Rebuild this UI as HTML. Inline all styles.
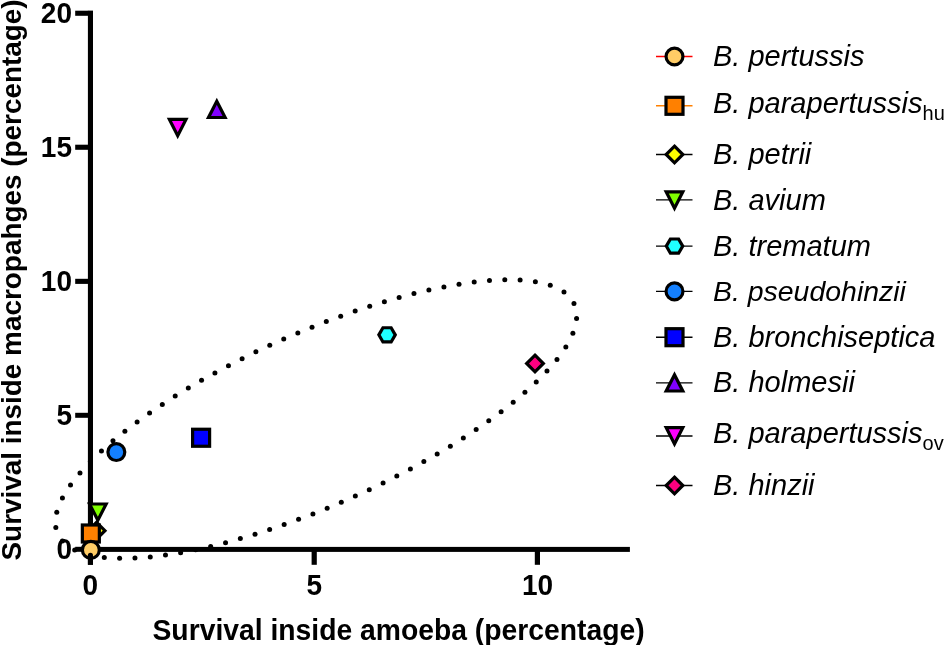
<!DOCTYPE html>
<html><head><meta charset="utf-8"><style>
html,body{margin:0;padding:0;background:#fff;}
body{width:945px;height:645px;overflow:hidden;}
svg{display:block;will-change:transform;}
text{font-family:"Liberation Sans",sans-serif;}
.tk{font-weight:bold;font-size:28px;}
.ti{font-weight:bold;font-size:28.3px;}
.ty{font-weight:bold;font-size:27.9px;}
.lg{font-style:italic;font-size:29px;}
.sub{font-style:normal;font-size:20px;}
</style></head><body>
<svg width="945" height="645" viewBox="0 0 945 645">
<rect width="945" height="645" fill="#fff"/>
<g fill="#000"><circle cx="55.82" cy="527.38" r="2.5"/><circle cx="56.77" cy="512.18" r="2.5"/><circle cx="62.42" cy="497.95" r="2.5"/><circle cx="70.50" cy="484.92" r="2.5"/><circle cx="79.99" cy="472.88" r="2.5"/><circle cx="90.39" cy="461.60" r="2.5"/><circle cx="101.44" cy="450.96" r="2.5"/><circle cx="112.97" cy="440.84" r="2.5"/><circle cx="124.88" cy="431.17" r="2.5"/><circle cx="137.10" cy="421.90" r="2.5"/><circle cx="149.59" cy="412.99" r="2.5"/><circle cx="162.30" cy="404.40" r="2.5"/><circle cx="175.21" cy="396.12" r="2.5"/><circle cx="188.30" cy="388.11" r="2.5"/><circle cx="201.54" cy="380.37" r="2.5"/><circle cx="214.93" cy="372.88" r="2.5"/><circle cx="228.46" cy="365.64" r="2.5"/><circle cx="242.11" cy="358.64" r="2.5"/><circle cx="255.88" cy="351.87" r="2.5"/><circle cx="269.76" cy="345.34" r="2.5"/><circle cx="283.74" cy="339.04" r="2.5"/><circle cx="297.83" cy="332.97" r="2.5"/><circle cx="312.02" cy="327.13" r="2.5"/><circle cx="326.31" cy="321.54" r="2.5"/><circle cx="340.69" cy="316.19" r="2.5"/><circle cx="355.16" cy="311.10" r="2.5"/><circle cx="369.72" cy="306.29" r="2.5"/><circle cx="384.38" cy="301.75" r="2.5"/><circle cx="399.13" cy="297.52" r="2.5"/><circle cx="413.96" cy="293.62" r="2.5"/><circle cx="428.89" cy="290.08" r="2.5"/><circle cx="443.91" cy="286.95" r="2.5"/><circle cx="459.01" cy="284.27" r="2.5"/><circle cx="474.20" cy="282.12" r="2.5"/><circle cx="489.47" cy="280.60" r="2.5"/><circle cx="504.79" cy="279.86" r="2.5"/><circle cx="520.12" cy="280.11" r="2.5"/><circle cx="535.37" cy="281.73" r="2.5"/><circle cx="550.26" cy="285.34" r="2.5"/><circle cx="563.97" cy="292.11" r="2.5"/><circle cx="573.96" cy="303.54" r="2.5"/><circle cx="576.57" cy="318.48" r="2.5"/><circle cx="572.88" cy="333.31" r="2.5"/><circle cx="565.83" cy="346.91" r="2.5"/><circle cx="556.96" cy="359.42" r="2.5"/><circle cx="546.97" cy="371.06" r="2.5"/><circle cx="536.23" cy="382.00" r="2.5"/><circle cx="524.92" cy="392.37" r="2.5"/><circle cx="513.19" cy="402.25" r="2.5"/><circle cx="501.12" cy="411.72" r="2.5"/><circle cx="488.76" cy="420.80" r="2.5"/><circle cx="476.15" cy="429.55" r="2.5"/><circle cx="463.34" cy="437.98" r="2.5"/><circle cx="450.34" cy="446.13" r="2.5"/><circle cx="437.17" cy="454.00" r="2.5"/><circle cx="423.85" cy="461.61" r="2.5"/><circle cx="410.39" cy="468.97" r="2.5"/><circle cx="396.80" cy="476.10" r="2.5"/><circle cx="383.09" cy="482.98" r="2.5"/><circle cx="369.27" cy="489.63" r="2.5"/><circle cx="355.33" cy="496.05" r="2.5"/><circle cx="341.30" cy="502.23" r="2.5"/><circle cx="327.16" cy="508.19" r="2.5"/><circle cx="312.92" cy="513.90" r="2.5"/><circle cx="298.59" cy="519.37" r="2.5"/><circle cx="284.16" cy="524.59" r="2.5"/><circle cx="269.64" cy="529.55" r="2.5"/><circle cx="255.03" cy="534.23" r="2.5"/><circle cx="240.33" cy="538.61" r="2.5"/><circle cx="225.54" cy="542.68" r="2.5"/><circle cx="210.66" cy="546.40" r="2.5"/><circle cx="195.68" cy="549.75" r="2.5"/><circle cx="180.62" cy="552.66" r="2.5"/><circle cx="165.48" cy="555.09" r="2.5"/><circle cx="150.25" cy="556.94" r="2.5"/><circle cx="134.95" cy="558.09" r="2.5"/><circle cx="119.61" cy="558.37" r="2.5"/><circle cx="104.30" cy="557.49" r="2.5"/><circle cx="89.18" cy="554.98" r="2.5"/><circle cx="74.71" cy="549.98" r="2.5"/><circle cx="62.38" cy="541.02" r="2.5"/></g>
<g fill="#000">
<rect x="87.9" y="10.6" width="5.1" height="541.4"/>
<rect x="87.9" y="546.9" width="542" height="5"/>
<rect x="75.2" y="10.7" width="13" height="5.1"/>
<rect x="75.2" y="144.7" width="13" height="5.1"/>
<rect x="75.2" y="278.8" width="13" height="5.1"/>
<rect x="75.2" y="412.8" width="13" height="5.0"/>
<rect x="75.2" y="546.8" width="13" height="5.0"/>
<rect x="87.9" y="551" width="5.1" height="13.8"/>
<rect x="311.6" y="551" width="5.2" height="13.8"/>
<rect x="534.8" y="551" width="5.2" height="13.8"/>
</g>
<g class="tk" text-anchor="end"><text transform="translate(72,23.3) scale(1,1.06)">20</text><text transform="translate(72,157.3) scale(1,1.06)">15</text><text transform="translate(72,291.3) scale(1,1.06)">10</text><text transform="translate(72,425.3) scale(1,1.06)">5</text><text transform="translate(72,559.3) scale(1,1.06)">0</text></g>
<g class="tk" text-anchor="middle"><text transform="translate(90.4,595.3) scale(1,1.06)">0</text><text transform="translate(314.2,595.3) scale(1,1.06)">5</text><text transform="translate(537.6,595.3) scale(1,1.06)">10</text></g>
<text class="ti" transform="translate(152.5,639.7) scale(1,1.02)">Survival inside amoeba (percentage)</text>
<text class="ty" transform="translate(20.6,560.5) rotate(-90) scale(1,1.02)">Survival inside macropahges (percentage)</text>
<g stroke="#000" stroke-width="3.2" stroke-linejoin="miter"><path d="M535.0 355.15L543.35 363.5L535.0 371.85L526.65 363.5Z" fill="#FF0080"/><path d="M169.39999999999998 119.40L186.0 119.40L177.7 135.65Z" fill="#FF00FF"/><path d="M208.5 117.50L225.10000000000002 117.50L216.8 101.25Z" fill="#8000FF"/><rect x="192.6" y="429.25" width="17.0" height="17.0" fill="#0000FF"/><circle cx="116.35" cy="452.05" r="8.45" fill="#1480FF"/><path d="M395.25 334.85L391.15 341.95L382.95 341.95L378.85 334.85L382.95 327.75L391.15 327.75Z" fill="#1FFFFF"/><path d="M89.55 504.00L106.14999999999999 504.00L97.85 520.25Z" fill="#80FF00"/><path d="M96.6 522.35L104.94999999999999 530.7L96.6 539.0500000000001L88.25 530.7Z" fill="#FFFF00"/><rect x="82.35" y="525.0" width="17.0" height="17.0" fill="#FF8000"/><circle cx="90.85" cy="549.9" r="8.45" fill="#FFCC66"/></g>
<path d="M87.9 564.8V555.2A2.55 2.55 0 0 1 93 555.2V564.8Z" fill="#000"/>
<line x1="656" y1="56.5" x2="692.5" y2="56.5" stroke="#FF0000" stroke-width="1.4"/><g stroke="#000" stroke-width="3.2" stroke-linejoin="miter"><circle cx="674.5" cy="56.5" r="8.45" fill="#FFCC66"/></g><text x="713" y="66.1" class="lg">B. pertussis</text><line x1="656" y1="105.8" x2="692.5" y2="105.8" stroke="#FF8000" stroke-width="1.4"/><g stroke="#000" stroke-width="3.2" stroke-linejoin="miter"><rect x="666.0" y="97.3" width="17.0" height="17.0" fill="#FF8000"/></g><text x="713" y="113.2" class="lg">B. parapertussis<tspan class="sub" dy="6.6">hu</tspan></text><line x1="656" y1="154.5" x2="692.5" y2="154.5" stroke="#000" stroke-width="1.4"/><g stroke="#000" stroke-width="3.2" stroke-linejoin="miter"><path d="M674.5 146.15L682.85 154.5L674.5 162.85L666.15 154.5Z" fill="#FFFF00"/></g><text x="713" y="164.1" class="lg">B. petrii</text><line x1="656" y1="199.9" x2="692.5" y2="199.9" stroke="#000" stroke-width="1.4"/><g stroke="#000" stroke-width="3.2" stroke-linejoin="miter"><path d="M666.2 191.90L682.8 191.90L674.5 208.15Z" fill="#80FF00"/></g><text x="713" y="209.5" class="lg">B. avium</text><line x1="656" y1="246.1" x2="692.5" y2="246.1" stroke="#000" stroke-width="1.4"/><g stroke="#000" stroke-width="3.2" stroke-linejoin="miter"><path d="M682.70 246.10L678.60 253.20L670.40 253.20L666.30 246.10L670.40 239.00L678.60 239.00Z" fill="#1FFFFF"/></g><text x="713" y="255.7" class="lg">B. trematum</text><line x1="656" y1="291.4" x2="692.5" y2="291.4" stroke="#000" stroke-width="1.4"/><g stroke="#000" stroke-width="3.2" stroke-linejoin="miter"><circle cx="674.5" cy="291.4" r="8.45" fill="#1480FF"/></g><text x="713" y="301.0" class="lg" style="font-size:28.45px">B. pseudohinzii</text><line x1="656" y1="337.2" x2="692.5" y2="337.2" stroke="#000" stroke-width="1.4"/><g stroke="#000" stroke-width="3.2" stroke-linejoin="miter"><rect x="666.0" y="328.7" width="17.0" height="17.0" fill="#0000FF"/></g><text x="713" y="346.8" class="lg">B. bronchiseptica</text><line x1="656" y1="382.9" x2="692.5" y2="382.9" stroke="#000" stroke-width="1.4"/><g stroke="#000" stroke-width="3.2" stroke-linejoin="miter"><path d="M666.2 391.00L682.8 391.00L674.5 374.75Z" fill="#8000FF"/></g><text x="713" y="392.0" class="lg">B. holmesii</text><line x1="656" y1="436.0" x2="692.5" y2="436.0" stroke="#000" stroke-width="1.4"/><g stroke="#000" stroke-width="3.2" stroke-linejoin="miter"><path d="M666.2 427.70L682.8 427.70L674.5 443.95Z" fill="#FF00FF"/></g><text x="713" y="443.1" class="lg">B. parapertussis<tspan class="sub" dy="6.6">ov</tspan></text><line x1="656" y1="485.5" x2="692.5" y2="485.5" stroke="#000" stroke-width="1.4"/><g stroke="#000" stroke-width="3.2" stroke-linejoin="miter"><path d="M674.5 477.15L682.85 485.5L674.5 493.85L666.15 485.5Z" fill="#FF0080"/></g><text x="713" y="495.1" class="lg">B. hinzii</text>
</svg>
</body></html>
